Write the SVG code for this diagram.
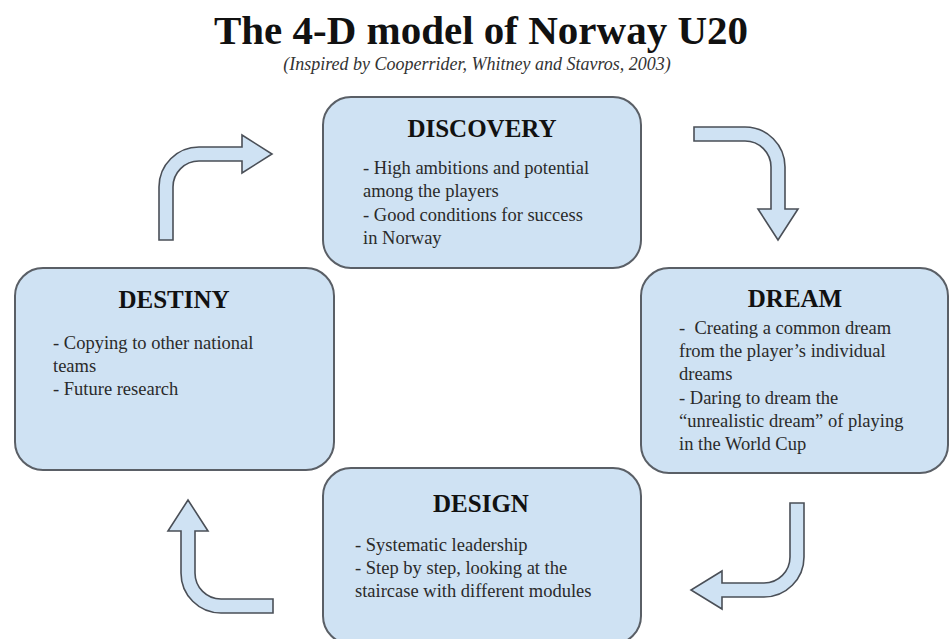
<svg xmlns="http://www.w3.org/2000/svg" width="950" height="639" viewBox="0 0 950 639">
  <style>
    .box { fill: #cfe2f3; stroke: #5a5f66; stroke-width: 2; }
    .arrow { fill: #cfe2f3; stroke: #4a4f57; stroke-width: 1.6; stroke-linejoin: miter; }
    .title { font-family: "Liberation Serif", "Times New Roman", serif; font-weight: bold; font-size: 41px; fill: #111; text-anchor: middle; }
    .subtitle { font-family: "Liberation Serif", "Times New Roman", serif; font-style: italic; font-size: 18px; fill: #333; text-anchor: middle; }
    .head { font-family: "Liberation Serif", "Times New Roman", serif; font-weight: bold; font-size: 25px; fill: #111; text-anchor: middle; }
    .body { font-family: "Liberation Serif", "Times New Roman", serif; font-size: 18.5px; fill: #2a2a2a; white-space: pre; }
  </style>
  <rect width="950" height="639" fill="#ffffff"/>

  <g id="heading">
    <text class="title" x="481" y="44">The 4-D model of Norway U20</text>
    <text class="subtitle" x="477" y="70">(Inspired by Cooperrider, Whitney and Stavros, 2003)</text>
  </g>

  <g id="discovery">
    <rect class="box" x="323" y="97" width="318" height="171" rx="28" ry="28"/>
    <text class="head" x="482" y="137">DISCOVERY</text>
    <text class="body" x="363" y="174">- High ambitions and potential</text>
    <text class="body" x="363" y="197">among the players</text>
    <text class="body" x="363" y="221">- Good conditions for success</text>
    <text class="body" x="363" y="244">in Norway</text>
  </g>

  <g id="dream">
    <rect class="box" x="641" y="268" width="307" height="205" rx="28" ry="28"/>
    <text class="head" x="795" y="307">DREAM</text>
    <text class="body" x="679" y="334">-  Creating a common dream</text>
    <text class="body" x="679" y="357">from the player’s individual</text>
    <text class="body" x="679" y="380">dreams</text>
    <text class="body" x="679" y="404">- Daring to dream the</text>
    <text class="body" x="679" y="427">“unrealistic dream” of playing</text>
    <text class="body" x="679" y="450">in the World Cup</text>
  </g>

  <g id="design">
    <rect class="box" x="323" y="468" width="318" height="176" rx="28" ry="28"/>
    <text class="head" x="481" y="512">DESIGN</text>
    <text class="body" x="355" y="551">- Systematic leadership</text>
    <text class="body" x="355" y="574">- Step by step, looking at the</text>
    <text class="body" x="355" y="597">staircase with different modules</text>
  </g>

  <g id="destiny">
    <rect class="box" x="15" y="268" width="319" height="202" rx="28" ry="28"/>
    <text class="head" x="174" y="308">DESTINY</text>
    <text class="body" x="53" y="349">- Copying to other national</text>
    <text class="body" x="53" y="372">teams</text>
    <text class="body" x="53" y="395">- Future research</text>
  </g>

  <g id="connectors">
    <!-- destiny -> discovery: up, then right -->
    <path class="arrow" d="M159,240 L159,187 A40,40 0 0 1 199,147 L242,147 L242,135 L272,154 L242,173 L242,161 L199,161 A26,26 0 0 0 173,187 L173,240 Z"/>
    <!-- discovery -> dream: right, then down -->
    <path class="arrow" d="M694,127 L745,127 A40,40 0 0 1 785,167 L785,209 L798,209 L778,240 L758,209 L771,209 L771,167 A26,26 0 0 0 745,141 L694,141 Z"/>
    <!-- dream -> design: down, then left -->
    <path class="arrow" d="M790,503 L804,503 L804,557 A40,40 0 0 1 764,597 L722,597 L722,609 L691,590 L722,571 L722,583 L764,583 A26,26 0 0 0 790,557 Z"/>
    <!-- design -> destiny: left, then up -->
    <path class="arrow" d="M273,599 L273,613 L221,613 A40,40 0 0 1 181,573 L181,531 L168,531 L188,500 L208,531 L195,531 L195,573 A26,26 0 0 0 221,599 Z"/>
  </g>
</svg>
